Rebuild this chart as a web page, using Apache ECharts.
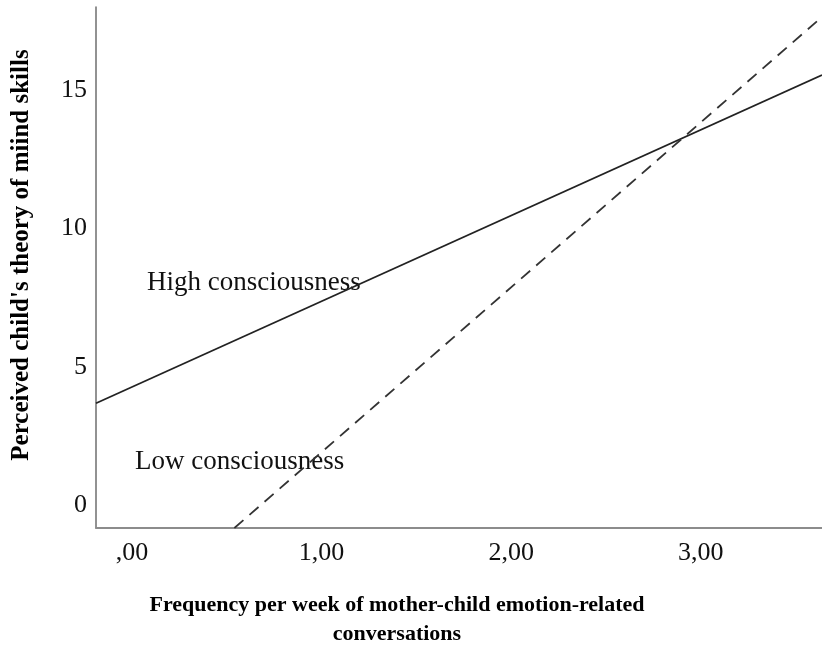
<!DOCTYPE html>
<html>
<head>
<meta charset="utf-8">
<script src="https://cdn.jsdelivr.net/npm/echarts@6/dist/echarts.min.js"></script>
<style>html,body{margin:0;padding:0;background:#fff}#c{width:822px;height:647px}</style>
</head>
<body>
<div id="c"></div>
<script>
const xTicks = [0, 1, 2, 3];
const yTicks = [0, 5, 10, 15];
const highX = [-0.19, 3.64];
const highY = [3.68, 15.54];
const lowX = [0.54, 3.64];
const lowY = [-0.83, 17.64];
const xTitle = ['Frequency per week of mother-child emotion-related', 'conversations'];
const yTitle = "Perceived child's theory of miind skills";

const serif = 'Liberation Serif';
const chart = echarts.init(document.getElementById('c'));
chart.setOption({
  animation: false,
  backgroundColor: '#fff',
  grid: { left: 96, right: 0, top: 7, bottom: 119 },
  xAxis: {
    type: 'value', min: -0.19, max: 3.64,
    axisLine: { onZero: false, lineStyle: { color: '#8c8c8c', width: 2 } },
    axisTick: { show: false },
    splitLine: { show: false },
    axisLabel: {
      customValues: xTicks, margin: 12,
      fontFamily: serif, fontSize: 26, color: '#111',
      formatter: v => v === 0 ? ',00' : v.toFixed(2).replace('.', ',')
    }
  },
  yAxis: {
    type: 'value', min: -0.83, max: 18.0,
    axisLine: { show: true, onZero: false, lineStyle: { color: '#6e6e6e', width: 1.5 } },
    axisTick: { show: false },
    splitLine: { show: false },
    axisLabel: {
      customValues: yTicks, margin: 9,
      fontFamily: serif, fontSize: 26, color: '#111'
    }
  },
  series: [
    {
      type: 'line', name: 'High consciousness', clip: true, symbol: 'none',
      data: highX.map((x, i) => [x, highY[i]]),
      lineStyle: { color: '#222', width: 1.8, type: 'solid' }
    },
    {
      type: 'line', name: 'Low consciousness', clip: true, symbol: 'none',
      data: lowX.map((x, i) => [x, lowY[i]]),
      lineStyle: { color: '#333', width: 1.8, type: [12, 8] }
    }
  ],
  graphic: [
    { type: 'text', left: 147, top: 269, silent: true,
      style: { text: 'High consciousness', font: '27px "Liberation Serif"', fill: '#111' } },
    { type: 'text', left: 135, top: 448, silent: true,
      style: { text: 'Low consciousness', font: '27px "Liberation Serif"', fill: '#111' } },
    { type: 'text', x: 397, y: 605, silent: true,
      style: { text: xTitle[0], font: 'bold 22px "Liberation Serif"', fill: '#000', align: 'center', verticalAlign: 'middle' } },
    { type: 'text', x: 397, y: 634, silent: true,
      style: { text: xTitle[1], font: 'bold 22px "Liberation Serif"', fill: '#000', align: 'center', verticalAlign: 'middle' } },
    { type: 'text', x: 22, y: 255, rotation: Math.PI / 2, silent: true,
      style: { text: yTitle, font: 'bold 25px "Liberation Serif"', fill: '#000', align: 'center', verticalAlign: 'middle' } }
  ]
});
</script>
</body>
</html>
